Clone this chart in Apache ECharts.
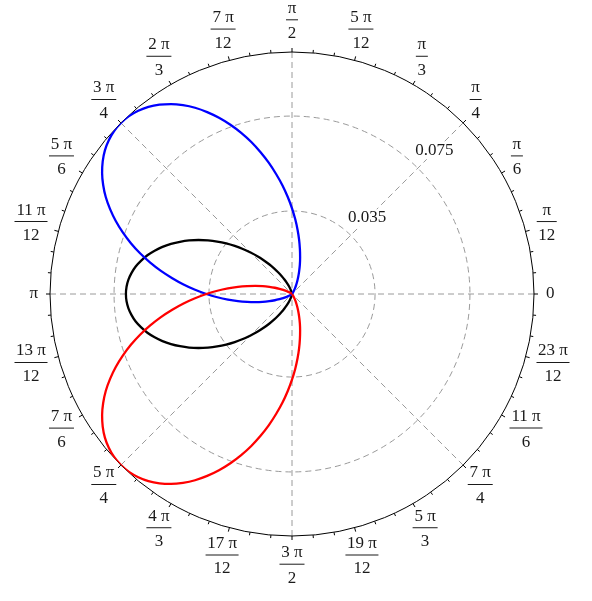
<!DOCTYPE html>
<html>
<head>
<meta charset="utf-8">
<script src="https://cdn.jsdelivr.net/npm/echarts@6/dist/echarts.min.js"></script>
<style>
html,body{margin:0;padding:0;background:#fff;}
#c{width:592px;height:601px;}
</style>
</head>
<body>
<div id="c"></div>
<script>
// ---- data ----
const angleTickLabels = ['0','π/12','π/6','π/4','π/3','5 π/12','π/2','7 π/12','2 π/3','3 π/4','5 π/6','11 π/12',
  'π','13 π/12','7 π/6','5 π/4','4 π/3','17 π/12','3 π/2','19 π/12','5 π/3','7 π/4','11 π/6','23 π/12'];
const radiusTickValues = [0.035, 0.075];
const radiusMax = 0.102;

const blackAngles = [90,92.5,95,97.5,100,102.5,105,107.5,110,112.5,115,117.5,120,122.5,125,127.5,130,132.5,135,137.5,140,142.5,145,147.5,150,152.5,155,157.5,160,162.5,165,167.5,170,172.5,175,177.5,180,182.5,185,187.5,190,192.5,195,197.5,200,202.5,205,207.5,210,212.5,215,217.5,220,222.5,225,227.5,230,232.5,235,237.5,240,242.5,245,247.5,250,252.5,255,257.5,260,262.5,265,267.5,270];
const blackRadii = [0,0,0.00005,0.0002,0.0004,0.0007,0.0012,0.0019,0.0028,0.0039,0.0053,0.0069,0.0088,0.0109,0.0132,0.0158,0.0186,0.0216,0.0247,0.0281,0.0315,0.0350,0.0385,0.0420,0.0455,0.0489,0.0521,0.0552,0.0581,0.0607,0.0631,0.0651,0.0669,0.0682,0.0692,0.0698,0.0700,
  0.0698,0.0692,0.0682,0.0669,0.0651,0.0631,0.0607,0.0581,0.0552,0.0521,0.0489,0.0455,0.0420,0.0385,0.0350,0.0315,0.0281,0.0247,0.0216,0.0186,0.0158,0.0132,0.0109,0.0088,0.0069,0.0053,0.0039,0.0028,0.0019,0.0012,0.0007,0.0004,0.0002,0.00005,0,0];

const blueAngles = [45,47.5,50,52.5,55,57.5,60,62.5,65,67.5,70,72.5,75,77.5,80,82.5,85,87.5,90,92.5,95,97.5,100,102.5,105,107.5,110,112.5,115,117.5,120,122.5,125,127.5,130,132.5,135,137.5,140,142.5,145,147.5,150,152.5,155,157.5,160,162.5,165,167.5,170,172.5,175,177.5,180,182.5,185,187.5,190,192.5,195,197.5,200,202.5,205,207.5,210,212.5,215,217.5,220,222.5,225];
const blueRadii = [0,0,0.0001,0.0002,0.0005,0.0010,0.0018,0.0028,0.0041,0.0057,0.0077,0.0100,0.0128,0.0158,0.0192,0.0230,0.0271,0.0315,0.0361,0.0409,0.0459,0.0509,0.0561,0.0612,0.0663,0.0712,0.0759,0.0804,0.0846,0.0885,0.0919,0.0949,0.0974,0.0994,0.1008,0.1017,0.1020,
  0.1017,0.1008,0.0994,0.0974,0.0949,0.0919,0.0885,0.0846,0.0804,0.0759,0.0712,0.0663,0.0612,0.0561,0.0509,0.0459,0.0409,0.0361,0.0315,0.0271,0.0230,0.0192,0.0158,0.0128,0.0100,0.0077,0.0057,0.0041,0.0028,0.0018,0.0010,0.0005,0.0002,0.0001,0,0];

const redAngles = [135,137.5,140,142.5,145,147.5,150,152.5,155,157.5,160,162.5,165,167.5,170,172.5,175,177.5,180,182.5,185,187.5,190,192.5,195,197.5,200,202.5,205,207.5,210,212.5,215,217.5,220,222.5,225,227.5,230,232.5,235,237.5,240,242.5,245,247.5,250,252.5,255,257.5,260,262.5,265,267.5,270,272.5,275,277.5,280,282.5,285,287.5,290,292.5,295,297.5,300,302.5,305,307.5,310,312.5,315];
const redRadii = [0,0,0.0001,0.0002,0.0005,0.0010,0.0018,0.0028,0.0041,0.0057,0.0077,0.0100,0.0128,0.0158,0.0192,0.0230,0.0271,0.0315,0.0361,0.0409,0.0459,0.0509,0.0561,0.0612,0.0663,0.0712,0.0759,0.0804,0.0846,0.0885,0.0919,0.0949,0.0974,0.0994,0.1008,0.1017,0.1020,
  0.1017,0.1008,0.0994,0.0974,0.0949,0.0919,0.0885,0.0846,0.0804,0.0759,0.0712,0.0663,0.0612,0.0561,0.0509,0.0459,0.0409,0.0361,0.0315,0.0271,0.0230,0.0192,0.0158,0.0128,0.0100,0.0077,0.0057,0.0041,0.0028,0.0018,0.0010,0.0005,0.0002,0.0001,0,0];

// ---- layout / style ----
const FONT = '"Liberation Serif", "Times New Roman", serif';
const FS = 17;
const CX = 292, CY = 294, R = 242;
const LABEL_MARGIN = -25;   // anchor inside, content pushed out with spacers
const LABEL_RING = R + 11.7; // ring on which label boxes are hooked
const TXT = '#1a1a1a';
const GRID = '#9a9a9a';

const ctx = document.createElement('canvas').getContext('2d');
ctx.font = FS + 'px ' + FONT;
const tw = s => ctx.measureText(s).width;

const rich = {};
const labelStrings = {};
angleTickLabels.forEach((t, i) => {
  const th = i * 15 * Math.PI / 180;
  const c = Math.cos(th), s = Math.sin(th);
  const frac = t.indexOf('/') >= 0;
  const parts = frac ? t.split('/') : [t];
  let w, h, yb, a, b;
  if (frac) {
    w = Math.ceil(Math.max(tw(parts[0]), tw(parts[1]))) + 3;
    h = 15 + 8 + 20; yb = 21; a = w / 2; b = 18.5;
  } else {
    w = Math.ceil(tw(t)); h = 18; yb = 9; a = w / 2; b = 6;
  }
  // box hooked on the ring at the point of its outline facing the centre
  const tx = CX + LABEL_RING * c + a * c;
  const ty = CY - LABEL_RING * s - b * s;
  const pr = R + LABEL_MARGIN;
  const px = CX + pr * c, py = CY - pr * s;
  const ha = Math.abs(px - CX) / R < 0.3 ? 'center' : (px > CX ? 'left' : 'right');
  const va = Math.abs(py - CY) / R < 0.3 ? 'middle' : (py > CY ? 'top' : 'bottom');
  let padL = 0, padR = 0, hTop = 0, hBot = 0;
  if (ha === 'left') padL = tx - px - w / 2;
  else if (ha === 'right') padR = px - tx - w / 2;
  else { const dd = tx - px; if (dd > 0) padL = 2 * dd; else padR = -2 * dd; }
  if (va === 'top') hTop = ty - py - yb;
  else if (va === 'bottom') hBot = py - ty - h + yb;
  else { const dd = 2 * (ty - py - yb + h / 2); if (dd > 0) hTop = dd; else hBot = -dd; }
  padL = Math.max(0, padL); padR = Math.max(0, padR);
  hTop = Math.max(0, hTop); hBot = Math.max(0, hBot);

  const L = padL > 0.5 ? '{l' + i + '|}' : '';
  const Rt = padR > 0.5 ? '{r' + i + '|}' : '';
  rich['l' + i] = { width: padL, height: 1, lineHeight: 1, align: 'center' };
  rich['r' + i] = { width: padR, height: 1, lineHeight: 1, align: 'center' };
  rich['t' + i] = { width: 1, height: 1, lineHeight: Math.max(1, hTop), align: 'center' };
  rich['u' + i] = { width: 1, height: 1, lineHeight: Math.max(1, hBot), align: 'center' };
  let str = '';
  if (hTop > 0.5) str += '{t' + i + '|}\n';
  if (frac) {
    rich['n' + i] = { fontSize: FS, fontFamily: FONT, color: TXT, lineHeight: 15, width: w, align: 'center' };
    rich['b' + i] = { width: w, height: 1, lineHeight: 8, backgroundColor: TXT, align: 'center' };
    rich['d' + i] = { fontSize: FS, fontFamily: FONT, color: TXT, lineHeight: 20, width: w, align: 'center' };
    str += L + '{n' + i + '|' + parts[0] + '}' + Rt + '\n' +
           L + '{b' + i + '|}' + Rt + '\n' +
           L + '{d' + i + '|' + parts[1] + '}' + Rt;
  } else {
    rich['s' + i] = { fontSize: FS, fontFamily: FONT, color: TXT, lineHeight: 18, width: w, align: 'center' };
    str += L + '{s' + i + '|' + t + '}' + Rt;
  }
  if (hBot > 0.5) str += '\n{u' + i + '|}';
  labelStrings[i] = str;
});

function angleLabel(v) {
  const i = Math.round(v / 15);
  if (i < 0 || i >= angleTickLabels.length) return '';
  return labelStrings[i];
}

const chart = echarts.init(document.getElementById('c'), null, { renderer: 'canvas' });
const dash = [6, 4];
const curve = (name, angles, radii, color, z) => ({
  type: 'line', coordinateSystem: 'polar', polarIndex: 0, name: name,
  data: angles.map((ang, k) => [radii[k], ang]),
  showSymbol: false, symbol: 'none', smooth: 0.3, z: z,
  lineStyle: { color: color, width: 2.3 }
});
const option = {
  animation: false,
  backgroundColor: '#fff',
  polar: [
    { center: [CX, CY], radius: R },
    { center: [CX, CY], radius: R }
  ],
  angleAxis: [
    {
      polarIndex: 0, type: 'value', min: 0, max: 360, interval: 15,
      startAngle: 0, clockwise: false, z: 3,
      axisLine: { show: true, lineStyle: { color: '#000', width: 1 } },
      axisTick: { show: true, inside: false, length: 4, lineStyle: { color: '#000', width: 1 } },
      minorTick: { show: true, splitNumber: 3, length: 3, lineStyle: { color: '#000', width: 1 } },
      splitLine: { show: false },
      splitArea: { show: false },
      axisLabel: { show: true, margin: LABEL_MARGIN, formatter: angleLabel, rich: rich, fontFamily: FONT, fontSize: FS, color: TXT }
    },
    {
      polarIndex: 1, type: 'value', min: 0, max: 360, interval: 45,
      startAngle: 45, clockwise: false,
      axisLine: { show: false }, axisTick: { show: false }, axisLabel: { show: false },
      splitArea: { show: false },
      splitLine: { show: true, lineStyle: { color: GRID, width: 1, type: dash } }
    }
  ],
  radiusAxis: [
    {
      polarIndex: 0, type: 'value', min: 0, max: radiusMax,
      axisLine: { show: false }, axisTick: { show: false }, axisLabel: { show: false },
      splitLine: { show: false }, splitArea: { show: false }
    },
    {
      polarIndex: 1, type: 'value', min: 0, max: radiusMax,
      axisLine: { show: false },
      axisTick: { show: false, customValues: radiusTickValues },
      axisLabel: {
        show: true, customValues: radiusTickValues, margin: 0,
        align: 'center', verticalAlign: 'middle', padding: [0, 0, 35, 33],
        formatter: v => '{r|' + String(v) + '}',
        rich: { r: { fontSize: FS, fontFamily: FONT, color: TXT, backgroundColor: '#fff', padding: [0, 1] } }
      },
      splitArea: { show: false },
      splitLine: { show: true, lineStyle: { color: GRID, width: 1, type: dash } }
    }
  ],
  series: [
    curve('black', blackAngles, blackRadii, '#000000', 5),
    curve('blue', blueAngles, blueRadii, '#0000ff', 6),
    curve('red', redAngles, redRadii, '#ff0000', 7)
  ]
};
chart.setOption(option);
</script>
</body>
</html>
